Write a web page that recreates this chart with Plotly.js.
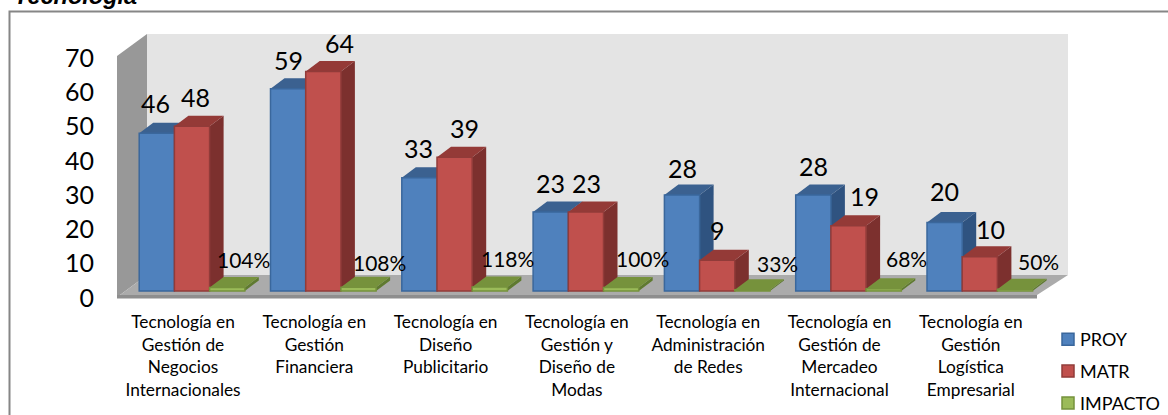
<!DOCTYPE html>
<html><head><meta charset="utf-8">
<script src="https://cdn.plot.ly/plotly-3.0.1.min.js"></script>
<style>html,body{margin:0;padding:0;background:#fff}</style></head>
<body><div id="chart" style="width:1168px;height:415px"></div>
<script>
const categories = [
  "Tecnología en Gestión de Negocios Internacionales",
  "Tecnología en Gestión Financiera",
  "Tecnología en Diseño Publicitario",
  "Tecnología en Gestión y Diseño de Modas",
  "Tecnología en Administración de Redes",
  "Tecnología en Gestión de Mercadeo Internacional",
  "Tecnología en Gestión Logística Empresarial"
];
const tickLabels = [
  ["Tecnología en","Gestión de","Negocios","Internacionales"],
  ["Tecnología en","Gestión","Financiera"],
  ["Tecnología en","Diseño","Publicitario"],
  ["Tecnología en","Gestión y","Diseño de","Modas"],
  ["Tecnología en","Administración","de Redes"],
  ["Tecnología en","Gestión de","Mercadeo","Internacional"],
  ["Tecnología en","Gestión","Logística","Empresarial"]
];
const proy = [46,59,33,23,28,28,20];
const matr = [48,64,39,23,9,19,10];
const impacto = [1.04,1.08,1.18,1.00,0.33,0.68,0.50];
const yTicks = [0,10,20,30,40,50,60,70];

// layout geometry (pixels)
const W=1168,H=415,L=95,R=1168,T=0,B=415;
const PITCH=131.3, BARW=35.2, XC=192, LABELXC=183, Y0=291, Y0T=298, PXU=3.43;
const DX=14, DY=10.5;
const mL={l:L,r:W-R,t:T,b:H-B,pad:0,autoexpand:false};
const xp=p=>(p-L)/(R-L), yp=p=>(B-p)/(B-T);
const dxU=DX/PITCH, dyU=DY/PXU, bwU=BARW/PITCH;

const styles=[
 {name:"PROY",front:"#4F81BD",line:"#3A679C",top:"#3B6190",side:"#2F5380"},
 {name:"MATR",front:"#C0504D",line:"#913B39",top:"#943A37",side:"#7C302E"},
 {name:"IMPACTO",front:"#9BBB59",line:"#76923C",top:"#76923C",side:"#5F7A30"}
];
const series=[proy,matr,impacto];

function poly(pts,fill,xref,yref){
  return {type:"path",layer:"below",xref:xref,yref:yref,
    path:"M"+pts.map(p=>p[0]+","+p[1]).join("L")+"Z",
    fillcolor:fill,line:{width:0,color:fill}};
}
const px=(pts)=>pts.map(p=>[xp(p[0]),yp(p[1])]);
const shapes=[
  {type:"rect",layer:"below",xref:"paper",yref:"paper",x0:xp(9.5),x1:xp(1175),y0:yp(425),y1:yp(11.5),line:{color:"#868686",width:2},fillcolor:"rgba(0,0,0,0)"},
  poly(px([[147,34],[1068,34],[1068,275],[147,275]]),"#E4E4E4","paper","paper"),
  poly(px([[117,56],[147,34],[147,275],[120,295],[117,298]]),"#989898","paper","paper"),
  poly(px([[120,295],[147,275],[1068,275],[1037,295]]),"#ABABAB","paper","paper"),
  poly(px([[117,295],[1037,295],[1037,298.5],[117,298.5]]),"#8E8E8E","paper","paper")
];
series.forEach((vals,s)=>{
  const st=styles[s];
  vals.forEach((v,i)=>{
    const x0=i+(s-1.5)*bwU, x1=x0+bwU;
    shapes.push(poly([[x1,0],[x1+dxU,dyU],[x1+dxU,v+dyU],[x1,v]],st.side,"x2","y2"));
    shapes.push(poly([[x0,v],[x0+dxU,v+dyU],[x1+dxU,v+dyU],[x1,v]],st.top,"x2","y2"));
  });
});
const traces=series.map((vals,s)=>({
  type:"bar",name:styles[s].name,x:categories,y:vals,xaxis:"x2",yaxis:"y2",
  legendgroup:styles[s].name,
  marker:{color:styles[s].front,line:{color:styles[s].line,width:1.5}},
  hoverinfo:"x+y+name"
}));
traces.push({type:"scatter",mode:"markers",x:[0],y:[0],marker:{opacity:0},showlegend:false,hoverinfo:"skip"});
const nudgeP=[[-1,-30],[0,-29],[-1,-30],[0,-29],[0,-27],[0,-29],[0,-31]];
const nudgeM=[[3,-29],[16,-28],[10,-29],[1,-29],[0,-30],[16,-30],[11,-28]];
const nudgeI=[[16,-28],[21,-25],[18,-28],[21,-29],[25,-26],[23,-30],[23,-28]];
const ann=[{xref:"paper",yref:"paper",x:xp(11.5),y:yp(-4.5),xanchor:"left",yanchor:"middle",showarrow:false,
  text:"<b><i>Tecnología</i></b>",font:{family:"Liberation Sans",size:23.5,color:"#000"}}];
[[proy,0,nudgeP,v=>String(v),25],[matr,1,nudgeM,v=>String(v),25],[impacto,2,nudgeI,v=>Math.round(v*100)+"%",21]].forEach(([vals,s,n,f,fs])=>{
  vals.forEach((v,i)=>ann.push({xref:"x2",yref:"y2",x:i+(s-1)*bwU,y:v,text:f(v),showarrow:false,
    xanchor:"center",yanchor:"middle",xshift:n[i][0],yshift:-n[i][1],
    font:{family:"Lato, sans-serif",size:fs,color:"#000"}}));
});
const layout={
  width:W,height:H,margin:mL,paper_bgcolor:"#fff",plot_bgcolor:"rgba(0,0,0,0)",
  barmode:"group",bargap:1-3*bwU,bargroupgap:0,
  xaxis:{type:"linear",range:[(L-LABELXC)/PITCH,(R-LABELXC)/PITCH],tickmode:"array",
    tickvals:categories.map((c,i)=>i),anchor:"free",position:yp(310),side:"bottom",
    ticktext:tickLabels.map(l=>l.join("<br>")),
    showgrid:false,zeroline:false,showline:false,ticks:"",
    tickfont:{family:"Lato, sans-serif",size:17.3,color:"#000"},tickangle:0},
  yaxis:{range:[(Y0T-B)/PXU,(Y0T-T)/PXU],tickmode:"array",tickvals:yTicks,ticktext:yTicks.map(String),
    showgrid:false,zeroline:false,showline:false,ticks:"",
    tickfont:{family:"Lato, sans-serif",size:25,color:"#000"}},
  xaxis2:{type:"category",categoryarray:categories,categoryorder:"array",overlaying:"x",
    range:[(L-XC)/PITCH,(R-XC)/PITCH],visible:false,showgrid:false,zeroline:false},
  yaxis2:{overlaying:"y",range:[(Y0-B)/PXU,(Y0-T)/PXU],visible:false,showgrid:false,zeroline:false},
  legend:{x:xp(1040),xanchor:"left",y:yp(321),yanchor:"top",traceorder:"grouped",tracegroupgap:5.5,
    font:{family:"Lato, sans-serif",size:18,color:"#000"},bgcolor:"rgba(0,0,0,0)"},
  shapes:shapes,annotations:ann,showlegend:true
};
Plotly.newPlot("chart",traces,layout,{displayModeBar:false,staticPlot:true}).then(()=>{
  document.querySelectorAll(".legend .legendpoints").forEach(g=>g.setAttribute("transform","translate(8,0)"));
});
</script></body></html>
